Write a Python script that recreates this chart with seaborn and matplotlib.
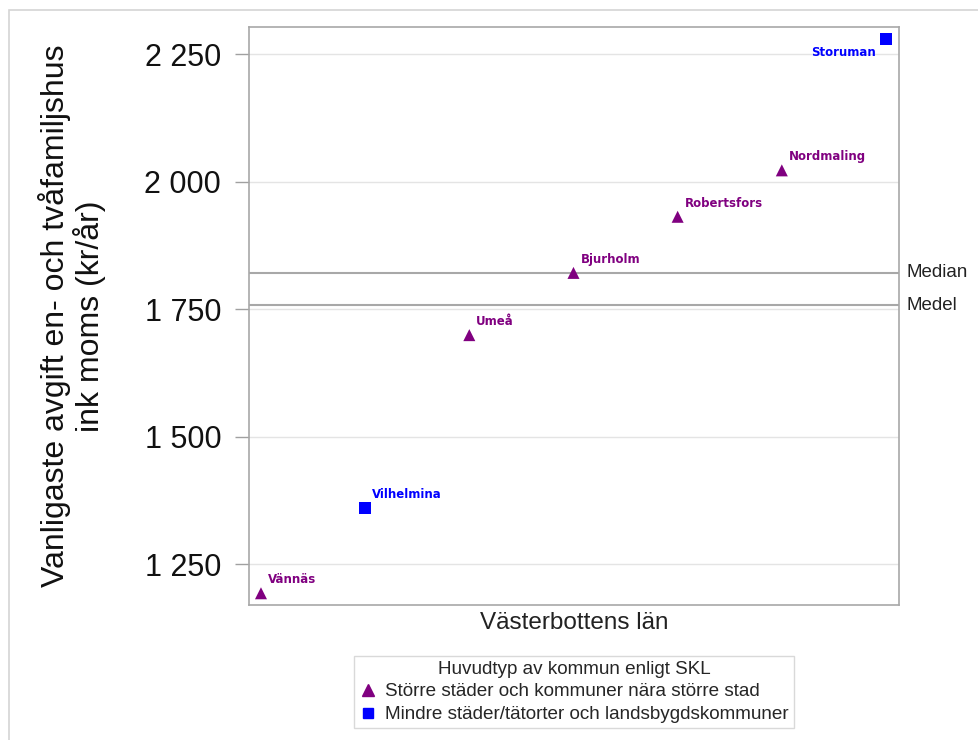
import matplotlib
matplotlib.use("Agg")
import matplotlib.pyplot as plt
from matplotlib.lines import Line2D
from matplotlib.patches import Rectangle
import seaborn as sns
import pandas as pd

kommuner = ["Vännäs", "Vilhelmina", "Umeå", "Bjurholm", "Robertsfors", "Nordmaling", "Storuman"]
avgift = [1193, 1360, 1699, 1821, 1931, 2022, 2279]
typ_stor = "Större städer och kommuner nära större stad"
typ_mindre = "Mindre städer/tätorter och landsbygdskommuner"
typer = [typ_stor, typ_mindre, typ_stor, typ_stor, typ_stor, typ_stor, typ_mindre]
median_val = 1821
medel_val = 1758
yticks = [1250, 1500, 1750, 2000, 2250]
ytick_labels = ["1 250", "1 500", "1 750", "2 000", "2 250"]

df = pd.DataFrame({"kommun": kommuner, "avgift": avgift, "typ": typer,
                   "pos": list(range(len(kommuner)))})

colors = {typ_stor: "#800080", typ_mindre: "#0000ff"}
markers = {typ_stor: "^", typ_mindre: "s"}

sns.set_theme(style="white")
plt.rcParams["font.family"] = ["Liberation Sans", "DejaVu Sans"]

fig = plt.figure(figsize=(9.79, 7.4), dpi=100)
ax = fig.add_axes([249/979, 1-605/740, 650/979, 578/740])

sns.scatterplot(data=df, x="pos", y="avgift", hue="typ", style="typ",
                palette=colors, markers=markers, s=75, edgecolor="none",
                legend=False, ax=ax, zorder=3)

for _, r in df.iterrows():
    c = colors[r["typ"]]
    if r["kommun"] == "Storuman":
        ax.annotate(r["kommun"], (r["pos"], r["avgift"]), xytext=(-7, -5),
                    textcoords="offset points", ha="right", va="top",
                    color=c, fontsize=8.5, fontweight="bold",
                    family="DejaVu Sans", zorder=4)
    else:
        ax.annotate(r["kommun"], (r["pos"], r["avgift"]), xytext=(5, 5),
                    textcoords="offset points", ha="left", va="bottom",
                    color=c, fontsize=8.5, fontweight="bold",
                    family="DejaVu Sans", zorder=4)

ax.axhline(median_val, color="#a8a8a8", lw=1.5, zorder=2)
ax.axhline(medel_val, color="#a8a8a8", lw=1.5, zorder=2)
ax.text(1.012, median_val, "Median", transform=ax.get_yaxis_transform(),
        va="center", ha="left", fontsize=13.5, color="#222222")
ax.text(1.012, medel_val, "Medel", transform=ax.get_yaxis_transform(),
        va="center", ha="left", fontsize=13.5, color="#222222")

ax.set_xlim(-0.115, 6.125)
ax.set_ylim(1170, 2303)
ax.set_yticks(yticks)
ax.set_yticklabels(ytick_labels, fontsize=22, color="#111111")
ax.set_xticks([])
ax.yaxis.grid(True, color="#e4e4e4", lw=1)
ax.set_axisbelow(True)
ax.tick_params(axis="y", left=True, length=10, width=1, color="#a0a0a0", pad=10)
for sp in ax.spines.values():
    sp.set_color("#a8a8a8")
    sp.set_linewidth(1.2)

ax.set_xlabel("Västerbottens län", fontsize=17.5, color="#222222", labelpad=5)
ax.set_ylabel("Vanligaste avgift en- och tvåfamiljshus\nink moms (kr/år)",
              fontsize=23, color="#111111", labelpad=28, linespacing=1.05)

handles = [Line2D([], [], marker="^", ls="none", color=colors[typ_stor], markersize=9),
           Line2D([], [], marker="s", ls="none", color=colors[typ_mindre], markersize=7.5)]
leg = ax.legend(handles, [typ_stor, typ_mindre], title="Huvudtyp av kommun enligt SKL",
                loc="upper center", bbox_to_anchor=(0.5, -0.088), frameon=True,
                fancybox=False, fontsize=13.6, title_fontsize=13.6,
                handletextpad=0.4, handlelength=1.0, borderpad=0.25,
                labelspacing=0.3, borderaxespad=0)
leg.get_frame().set_edgecolor("#d0d0d0")
leg.get_frame().set_linewidth(1)

fig.patches.append(Rectangle((9/979, -0.05), 1.2, (730/740) + 0.05,
                             transform=fig.transFigure, fill=False,
                             edgecolor="#d4d4d4", lw=1.2, zorder=0))

fig.savefig("out.png", dpi=100)
